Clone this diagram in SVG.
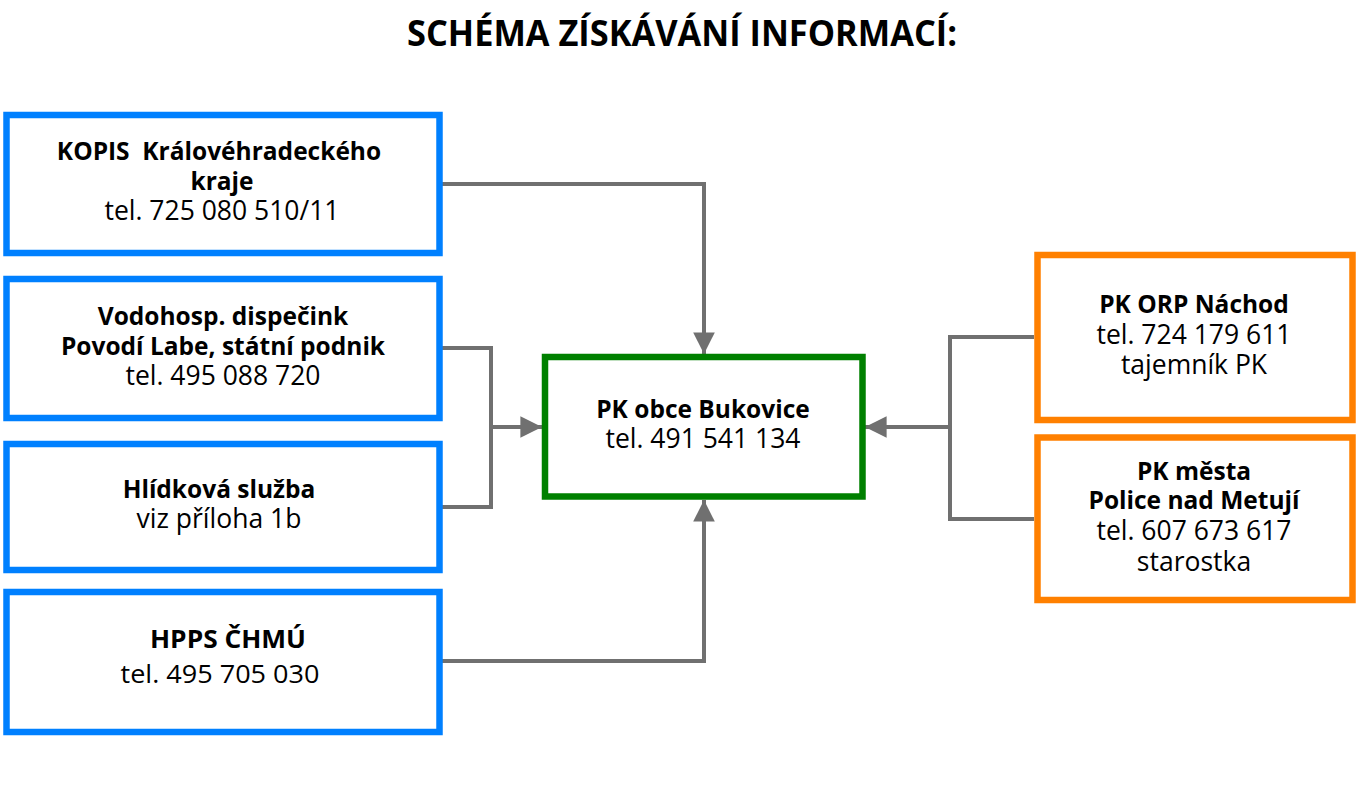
<svg xmlns="http://www.w3.org/2000/svg" width="1360" height="787" viewBox="0 0 1360 787">
<defs>
<style>
.blue{fill:#fff;stroke:#0080ff;stroke-width:6.5}
.green{fill:#fff;stroke:#008000;stroke-width:6.5}
.orange{fill:#fff;stroke:#ff8000;stroke-width:6.5}
text{font-family:"Open Sans","Noto Sans","DejaVu Sans",sans-serif;font-size:26.5px;fill:#000;text-anchor:middle}
.b{font-weight:bold;font-size:24.5px}
.conn{fill:none;stroke:#707070;stroke-width:4}
</style>
<marker id="ah" viewBox="0 0 10 10" refX="10" refY="5" markerWidth="8" markerHeight="5.4" markerUnits="strokeWidth" orient="auto">
<path d="M0,0 L10,5 L0,10 z" fill="#707070"/>
</marker>
</defs>
<rect width="1360" height="787" fill="#fff"/>
<text x="682" y="46" class="b" style="font-size:35px" textLength="550" lengthAdjust="spacingAndGlyphs">SCHÉMA ZÍSKÁVÁNÍ INFORMACÍ:</text>
<g id="connectors">
<path class="conn" d="M442,184 H704 V354" marker-end="url(#ah)"/>
<path class="conn" d="M442,661 H704 V500" marker-end="url(#ah)"/>
<path class="conn" d="M442,348 H491 V507 H442"/>
<path class="conn" d="M491,427 H542" marker-end="url(#ah)"/>
<path class="conn" d="M1034,337 H950 V519 H1034"/>
<path class="conn" d="M950,427 H865" marker-end="url(#ah)"/>
</g>
<g id="kopis">
<rect class="blue" x="6.5" y="115" width="433" height="138"/>
<text x="219" y="160" class="b" xml:space="preserve">KOPIS  Královéhradeckého</text>
<text x="222" y="190" class="b">kraje</text>
<text x="222" y="220">tel. 725 080 510/11</text>
</g>
<g id="vodohosp">
<rect class="blue" x="6.5" y="279" width="433" height="139"/>
<text x="223" y="325" class="b">Vodohosp. dispečink</text>
<text x="223" y="355" class="b">Povodí Labe, státní podnik</text>
<text x="223" y="385">tel. 495 088 720</text>
</g>
<g id="hlidkova">
<rect class="blue" x="6.5" y="444" width="433" height="126"/>
<text x="219" y="498" class="b">Hlídková služba</text>
<text x="219" y="528">viz příloha 1b</text>
</g>
<g id="hpps">
<rect class="blue" x="6.5" y="592" width="433" height="140"/>
<text x="228" y="648" class="b" style="font-size:25px" textLength="156" lengthAdjust="spacingAndGlyphs">HPPS ČHMÚ</text>
<text x="220" y="683" style="font-size:26px" textLength="199" lengthAdjust="spacingAndGlyphs">tel. 495 705 030</text>
</g>
<g id="bukovice">
<rect class="green" x="545" y="357" width="317.5" height="139.5"/>
<text x="703" y="418" class="b">PK obce Bukovice</text>
<text x="703" y="448">tel. 491 541 134</text>
</g>
<g id="nachod">
<rect class="orange" x="1037.5" y="255" width="315" height="165"/>
<text x="1194" y="313" class="b">PK ORP Náchod</text>
<text x="1194" y="344">tel. 724 179 611</text>
<text x="1194" y="374">tajemník PK</text>
</g>
<g id="police">
<rect class="orange" x="1037.5" y="437.5" width="315" height="162.5"/>
<text x="1194" y="480" class="b">PK města</text>
<text x="1194" y="509" class="b">Police nad Metují</text>
<text x="1194" y="540">tel. 607 673 617</text>
<text x="1194" y="571">starostka</text>
</g>
</svg>
